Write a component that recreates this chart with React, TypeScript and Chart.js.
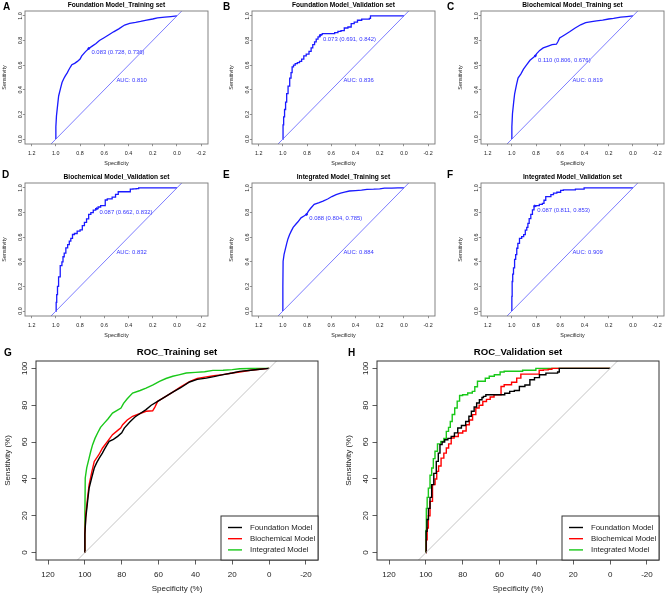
import React, { useEffect, useRef } from 'react';
import { Chart, registerables } from 'chart.js';

Chart.register(...registerables);

const FONT = '"Liberation Sans", Arial, Helvetica, sans-serif';

// ---------- ROC curves (specificity, sensitivity as fractions) ----------
const foundationTrainSpec = [1, 1, 0.995, 0.985, 0.977, 0.962, 0.949, 0.935, 0.922, 0.905, 0.895, 0.88, 0.868, 0.845, 0.822, 0.8, 0.786, 0.755, 0.728, 0.7, 0.668, 0.64, 0.605, 0.565, 0.523, 0.48, 0.432, 0.39, 0.341, 0.3, 0.25, 0.2, 0.16, 0.1, 0.05, 0];
const foundationTrainSens = [0, 0.1, 0.188, 0.28, 0.35, 0.41, 0.459, 0.49, 0.513, 0.54, 0.559, 0.585, 0.604, 0.615, 0.631, 0.65, 0.676, 0.71, 0.736, 0.755, 0.776, 0.8, 0.821, 0.845, 0.871, 0.895, 0.926, 0.94, 0.947, 0.955, 0.966, 0.975, 0.984, 0.99, 0.995, 1];

const biochemTrainSpec = [1, 1, 0.995, 0.985, 0.977, 0.962, 0.949, 0.925, 0.904, 0.88, 0.85, 0.82, 0.806, 0.795, 0.77, 0.741, 0.7, 0.668, 0.632, 0.62, 0.605, 0.565, 0.523, 0.48, 0.432, 0.39, 0.341, 0.3, 0.25, 0.2, 0.16, 0.1, 0.05, 0];
const biochemTrainSens = [0, 0.1, 0.206, 0.3, 0.368, 0.44, 0.495, 0.53, 0.568, 0.6, 0.64, 0.665, 0.676, 0.694, 0.72, 0.74, 0.755, 0.767, 0.77, 0.79, 0.821, 0.845, 0.871, 0.9, 0.928, 0.945, 0.954, 0.96, 0.966, 0.975, 0.98, 0.99, 0.995, 1];

const integratedTrainSpec = [1, 1, 0.998, 0.99, 0.977, 0.968, 0.958, 0.945, 0.931, 0.915, 0.895, 0.875, 0.85, 0.825, 0.804, 0.79, 0.77, 0.741, 0.7, 0.668, 0.63, 0.595, 0.56, 0.523, 0.49, 0.45, 0.4, 0.35, 0.305, 0.25, 0.2, 0.16, 0.1, 0.05, 0];
const integratedTrainSens = [0, 0.2, 0.405, 0.46, 0.513, 0.55, 0.586, 0.62, 0.649, 0.68, 0.703, 0.725, 0.757, 0.772, 0.785, 0.81, 0.835, 0.866, 0.88, 0.893, 0.91, 0.93, 0.945, 0.957, 0.965, 0.975, 0.978, 0.982, 0.989, 0.99, 0.993, 0.998, 0.999, 1, 1];

const foundationValidSpec = [1, 0.997, 0.99, 0.982, 0.973, 0.964, 0.95, 0.937, 0.928, 0.919, 0.905, 0.891, 0.87, 0.855, 0.835, 0.819, 0.795, 0.773, 0.76, 0.746, 0.73, 0.719, 0.7, 0.691, 0.684, 0.665, 0.647, 0.6, 0.584, 0.56, 0.53, 0.51, 0.475, 0.45, 0.421, 0.4, 0.367, 0.33, 0.294, 0.276, 0.276, 0];
const foundationValidSens = [0, 0.116, 0.18, 0.24, 0.3, 0.369, 0.43, 0.495, 0.54, 0.586, 0.6, 0.613, 0.62, 0.631, 0.65, 0.676, 0.69, 0.712, 0.74, 0.767, 0.79, 0.812, 0.83, 0.842, 0.848, 0.857, 0.857, 0.857, 0.857, 0.865, 0.875, 0.88, 0.902, 0.91, 0.938, 0.95, 0.965, 0.974, 0.974, 0.98, 1, 1];

const biochemValidSpec = [1, 0.995, 0.991, 0.982, 0.973, 0.955, 0.945, 0.937, 0.925, 0.91, 0.895, 0.883, 0.87, 0.855, 0.838, 0.81, 0.79, 0.773, 0.755, 0.738, 0.72, 0.702, 0.68, 0.662, 0.64, 0.62, 0.6, 0.584, 0.566, 0.55, 0.52, 0.494, 0.475, 0.45, 0.42, 0.394, 0.376, 0.35, 0.322, 0.31, 0];
const biochemValidSens = [0, 0.07, 0.134, 0.2, 0.278, 0.369, 0.4, 0.441, 0.47, 0.513, 0.54, 0.568, 0.59, 0.622, 0.63, 0.649, 0.66, 0.694, 0.72, 0.749, 0.785, 0.8, 0.82, 0.832, 0.845, 0.857, 0.857, 0.902, 0.911, 0.911, 0.925, 0.947, 0.969, 0.969, 0.969, 0.969, 0.99, 0.992, 0.995, 1, 1];

const integratedValidSpec = [1, 1, 0.995, 0.991, 0.982, 0.973, 0.964, 0.955, 0.946, 0.928, 0.91, 0.895, 0.883, 0.871, 0.864, 0.85, 0.837, 0.823, 0.811, 0.79, 0.756, 0.74, 0.729, 0.711, 0.69, 0.665, 0.647, 0.61, 0.584, 0.566, 0.5, 0.45, 0.403, 0.403, 0];
const integratedValidSens = [0, 0.12, 0.24, 0.3, 0.35, 0.42, 0.459, 0.51, 0.55, 0.59, 0.604, 0.62, 0.658, 0.68, 0.712, 0.75, 0.785, 0.822, 0.853, 0.857, 0.866, 0.875, 0.9, 0.93, 0.93, 0.946, 0.957, 0.965, 0.98, 0.984, 0.984, 0.99, 0.99, 1, 1];

// chance (reference) line, clipped by the plot box
const chanceSpec = [1.4, -0.4];
const chanceSens = [-0.4, 1.4];

// ---------- labels / annotations ----------
const xTickValues = [1.2, 1.0, 0.8, 0.6, 0.4, 0.2, 0.0, -0.2];
const smallXTickLabels = ['1.2', '1.0', '0.8', '0.6', '0.4', '0.2', '0.0', '-0.2'];
const yTickValues = [0, 0.2, 0.4, 0.6, 0.8, 1.0];
const smallYTickLabels = ['0.0', '0.2', '0.4', '0.6', '0.8', '1.0'];
const bigXTickLabels = ['120', '100', '80', '60', '40', '20', '0', '-20'];
const bigYTickLabels = ['0', '20', '40', '60', '80', '100'];

const smallLetters = ['A', 'B', 'C', 'D', 'E', 'F'];
const smallTitles = [
  'Foundation Model_Training set',
  'Foundation Model_Validation set',
  'Biochemical Model_Training set',
  'Biochemical Model_Validation set',
  'Integrated Model_Training set',
  'Integrated Model_Validation set',
];
const thresholdCut = [0.083, 0.073, 0.11, 0.087, 0.088, 0.087];
const thresholdSpec = [0.728, 0.691, 0.806, 0.662, 0.804, 0.811];
const thresholdSens = [0.736, 0.842, 0.676, 0.832, 0.785, 0.853];
const aucValues = [0.81, 0.836, 0.819, 0.832, 0.884, 0.909];

const modelNames = ['Foundation Model', 'Biochemical Model', 'Integrated Model'];
const modelColors = ['#000000', '#ff0000', '#19c819'];
const bigTitles = ['ROC_Training set', 'ROC_Validation set'];
const bigLetters = ['G', 'H'];

const pts = (spec: number[], sens: number[]) => spec.map((s, i) => ({ x: s, y: sens[i] }));

const smallCurves = [
  [foundationTrainSpec, foundationTrainSens],
  [foundationValidSpec, foundationValidSens],
  [biochemTrainSpec, biochemTrainSens],
  [biochemValidSpec, biochemValidSens],
  [integratedTrainSpec, integratedTrainSens],
  [integratedValidSpec, integratedValidSens],
];
const smallIsValidation = [false, true, false, true, false, true];
const bigCurves = [
  [
    [foundationTrainSpec, foundationTrainSens],
    [biochemTrainSpec, biochemTrainSens],
    [integratedTrainSpec, integratedTrainSens],
  ],
  [
    [foundationValidSpec, foundationValidSens],
    [biochemValidSpec, biochemValidSens],
    [integratedValidSpec, integratedValidSens],
  ],
];

// ---------- layout ----------
const smallColLeft = [25, 252, 481];
const smallRowTop = [11, 183];
const SMALL_W = 186;
const SMALL_H = 133;
const bigLeft = [36, 377];
const BIG_TOP = 361;
const BIG_W = 282;
const BIG_H = 199;

type Geo = { padL: number; padT: number; padR: number; padB: number; xMin: number; xMax: number; tickLen: number; tickColor: string };

function scalesFor(g: Geo) {
  return {
    x: {
      type: 'linear',
      reverse: true,
      min: g.xMin,
      max: g.xMax,
      afterBuildTicks: (s: any) => {
        s.ticks = xTickValues.map((v) => ({ value: v }));
      },
      afterFit: (s: any) => {
        s.height = g.padB;
      },
      ticks: { display: false },
      grid: { display: true, drawOnChartArea: false, drawTicks: true, tickLength: g.tickLen, color: g.tickColor, lineWidth: 0.8 },
      border: { display: false },
    },
    y: {
      type: 'linear',
      min: -0.04,
      max: 1.04,
      afterBuildTicks: (s: any) => {
        s.ticks = yTickValues.map((v) => ({ value: v }));
      },
      afterFit: (s: any) => {
        s.width = g.padL;
      },
      ticks: { display: false },
      grid: { display: true, drawOnChartArea: false, drawTicks: true, tickLength: g.tickLen, color: g.tickColor, lineWidth: 0.8 },
      border: { display: false },
    },
  };
}

function rotText(ctx: CanvasRenderingContext2D, t: string, x: number, y: number) {
  ctx.save();
  ctx.translate(x, y);
  ctx.rotate(-Math.PI / 2);
  ctx.fillText(t, 0, 0);
  ctx.restore();
}

function smallConfig(i: number) {
  const g: Geo = { padL: 25, padT: 11, padR: 2, padB: 26, xMin: -0.257, xMax: 1.255, tickLen: 2.2, tickColor: '#777' };
  const [spec, sens] = smallCurves[i];
  const blue = '#1a1aff';
  const decor = {
    id: 'decorSmall',
    afterDraw(chart: any) {
      const { ctx, chartArea: a, scales } = chart;
      const xs = scales.x;
      const ys = scales.y;
      ctx.save();
      ctx.strokeStyle = '#777';
      ctx.lineWidth = 0.9;
      ctx.strokeRect(a.left, a.top, a.right - a.left, a.bottom - a.top);
      ctx.fillStyle = '#222';
      ctx.textAlign = 'center';
      ctx.textBaseline = 'middle';
      ctx.font = `5.4px ${FONT}`;
      xTickValues.forEach((v, k) => ctx.fillText(smallXTickLabels[k], xs.getPixelForValue(v), a.bottom + 9.5));
      yTickValues.forEach((v, k) => rotText(ctx, smallYTickLabels[k], a.left - 4.3, ys.getPixelForValue(v)));
      ctx.fillText('Specificity', (a.left + a.right) / 2, a.bottom + 19.3);
      rotText(ctx, 'Sensitivity', a.left - 20, (a.top + a.bottom) / 2);
      ctx.fillStyle = '#000';
      ctx.font = `bold 6.6px ${FONT}`;
      ctx.fillText(smallTitles[i], (a.left + a.right) / 2, a.top - 6.3);
      // annotations
      ctx.fillStyle = '#3535ff';
      ctx.font = `5.9px ${FONT}`;
      ctx.textAlign = 'left';
      ctx.textBaseline = 'top';
      const tLabel = `${thresholdCut[i].toFixed(3)} (${thresholdSpec[i].toFixed(3)}, ${thresholdSens[i].toFixed(3)})`;
      const tw = ctx.measureText(tLabel).width;
      ctx.fillText(tLabel, xs.getPixelForValue(thresholdSpec[i]) + 0.05 * tw, ys.getPixelForValue(thresholdSens[i]) + 1.3);
      ctx.fillText(`AUC: ${aucValues[i].toFixed(3)}`, xs.getPixelForValue(0.5), ys.getPixelForValue(0.5) + 0.2);
      ctx.restore();
    },
  };
  return {
    type: 'line',
    data: {
      datasets: [
        { data: pts(chanceSpec, chanceSens), borderColor: '#5c5cff', borderWidth: 0.8, pointRadius: 0, fill: false },
        {
          data: pts(spec, sens),
          borderColor: blue,
          borderWidth: 1.3,
          pointRadius: 0,
          fill: false,
          stepped: smallIsValidation[i] ? 'middle' : false,
        },
        { data: pts([thresholdSpec[i]], [thresholdSens[i]]), borderColor: blue, backgroundColor: blue, pointRadius: 0.9, showLine: false },
      ],
    },
    options: {
      animation: false,
      responsive: false,
      devicePixelRatio: 1,
      layout: { padding: { left: 0, top: g.padT, right: g.padR, bottom: 0 } },
      plugins: { legend: { display: false }, title: { display: false }, tooltip: { enabled: false } },
      elements: { line: { tension: 0 } },
      scales: scalesFor(g),
    },
    plugins: [decor],
  };
}

function bigConfig(j: number) {
  const half = BIG_W / (BIG_H / 1.08) / 2;
  const g: Geo = { padL: 36, padT: 22, padR: 4, padB: 36, xMin: 0.5 - half, xMax: 0.5 + half, tickLen: 4.5, tickColor: '#333' };
  const decor = {
    id: 'decorBig',
    afterDraw(chart: any) {
      const { ctx, chartArea: a, scales } = chart;
      const xs = scales.x;
      const ys = scales.y;
      ctx.save();
      ctx.strokeStyle = '#333';
      ctx.lineWidth = 1;
      ctx.strokeRect(a.left, a.top, a.right - a.left, a.bottom - a.top);
      ctx.fillStyle = '#222';
      ctx.textAlign = 'center';
      ctx.textBaseline = 'middle';
      ctx.font = `8px ${FONT}`;
      xTickValues.forEach((v, k) => ctx.fillText(bigXTickLabels[k], xs.getPixelForValue(v), a.bottom + 15));
      yTickValues.forEach((v, k) => rotText(ctx, bigYTickLabels[k], a.left - 11.5, ys.getPixelForValue(v)));
      ctx.fillText('Specificity (%)', (a.left + a.right) / 2, a.bottom + 28.7);
      rotText(ctx, 'Sensitivity (%)', a.left - 28, (a.top + a.bottom) / 2);
      ctx.fillStyle = '#000';
      ctx.font = `bold 9.6px ${FONT}`;
      ctx.fillText(bigTitles[j], (a.left + a.right) / 2, a.top - 9);
      // legend
      const lw = 97;
      const lh = 44;
      const lx = a.right - lw;
      const ly = a.bottom - lh;
      ctx.fillStyle = '#fff';
      ctx.fillRect(lx, ly, lw, lh);
      ctx.strokeStyle = '#333';
      ctx.strokeRect(lx, ly, lw, lh);
      ctx.font = `7.8px ${FONT}`;
      ctx.textAlign = 'left';
      chart.data.datasets
        .filter((d: any) => d.label)
        .forEach((d: any, k: number) => {
          const yy = ly + 11.5 + k * 11.2;
          ctx.strokeStyle = d.borderColor;
          ctx.lineWidth = 1.4;
          ctx.beginPath();
          ctx.moveTo(lx + 7, yy);
          ctx.lineTo(lx + 21, yy);
          ctx.stroke();
          ctx.fillStyle = '#222';
          ctx.fillText(d.label, lx + 29, yy);
        });
      ctx.restore();
    },
  };
  const curves = bigCurves[j];
  return {
    type: 'line',
    data: {
      datasets: [
        { data: pts(chanceSpec, chanceSens), borderColor: '#bdbdbd', borderWidth: 0.9, pointRadius: 0, fill: false },
        ...curves.map(([spec, sens], k) => ({
          label: modelNames[k],
          data: pts(spec, sens),
          borderColor: modelColors[k],
          borderWidth: 1.4,
          pointRadius: 0,
          fill: false,
          stepped: j === 1 ? 'middle' : false,
        })),
      ],
    },
    options: {
      animation: false,
      responsive: false,
      devicePixelRatio: 1,
      layout: { padding: { left: 0, top: g.padT, right: g.padR, bottom: 0 } },
      plugins: { legend: { display: false }, title: { display: false }, tooltip: { enabled: false } },
      elements: { line: { tension: 0 } },
      scales: scalesFor(g),
    },
    plugins: [decor],
  };
}

function ChartCanvas({ left, top, width, height, make }: { left: number; top: number; width: number; height: number; make: () => any }) {
  const ref = useRef<HTMLCanvasElement>(null);
  useEffect(() => {
    const chart = new Chart(ref.current as HTMLCanvasElement, make());
    return () => chart.destroy();
  }, []);
  return <canvas ref={ref} width={width} height={height} style={{ position: 'absolute', left, top, width, height }} />;
}

const letterStyle: React.CSSProperties = {
  position: 'absolute',
  fontFamily: FONT,
  fontWeight: 'bold',
  fontSize: 10,
  lineHeight: '10px',
  color: '#000',
};

const smallLetterPos = [
  [3, 2],
  [223, 2],
  [447, 2],
  [2, 170],
  [223, 170],
  [447, 170],
];
const bigLetterPos = [
  [4, 348],
  [348, 348],
];

export default function App() {
  const gridOrder = [0, 1, 2, 3, 4, 5];
  const sw = 25 + SMALL_W + 2;
  const sh = 11 + SMALL_H + 26;
  return (
    <div style={{ position: 'fixed', left: 0, top: 0, width: 669, height: 596, background: '#fff', overflow: 'hidden' }}>
      {gridOrder.map((i) => {
        const col = i % 3;
        const row = Math.floor(i / 3);
        return (
          <ChartCanvas
            key={'s' + i}
            left={smallColLeft[col] - 25}
            top={smallRowTop[row] - 11}
            width={sw}
            height={sh}
            make={() => smallConfig(i)}
          />
        );
      })}
      {[0, 1].map((j) => (
        <ChartCanvas
          key={'b' + j}
          left={bigLeft[j] - 36}
          top={BIG_TOP - 22}
          width={36 + BIG_W + 4}
          height={22 + BIG_H + 36}
          make={() => bigConfig(j)}
        />
      ))}
      {smallLetters.map((L, i) => (
        <div key={L} style={{ ...letterStyle, left: smallLetterPos[i][0], top: smallLetterPos[i][1] }}>
          {L}
        </div>
      ))}
      {bigLetters.map((L, j) => (
        <div key={L} style={{ ...letterStyle, left: bigLetterPos[j][0], top: bigLetterPos[j][1] }}>
          {L}
        </div>
      ))}
    </div>
  );
}
